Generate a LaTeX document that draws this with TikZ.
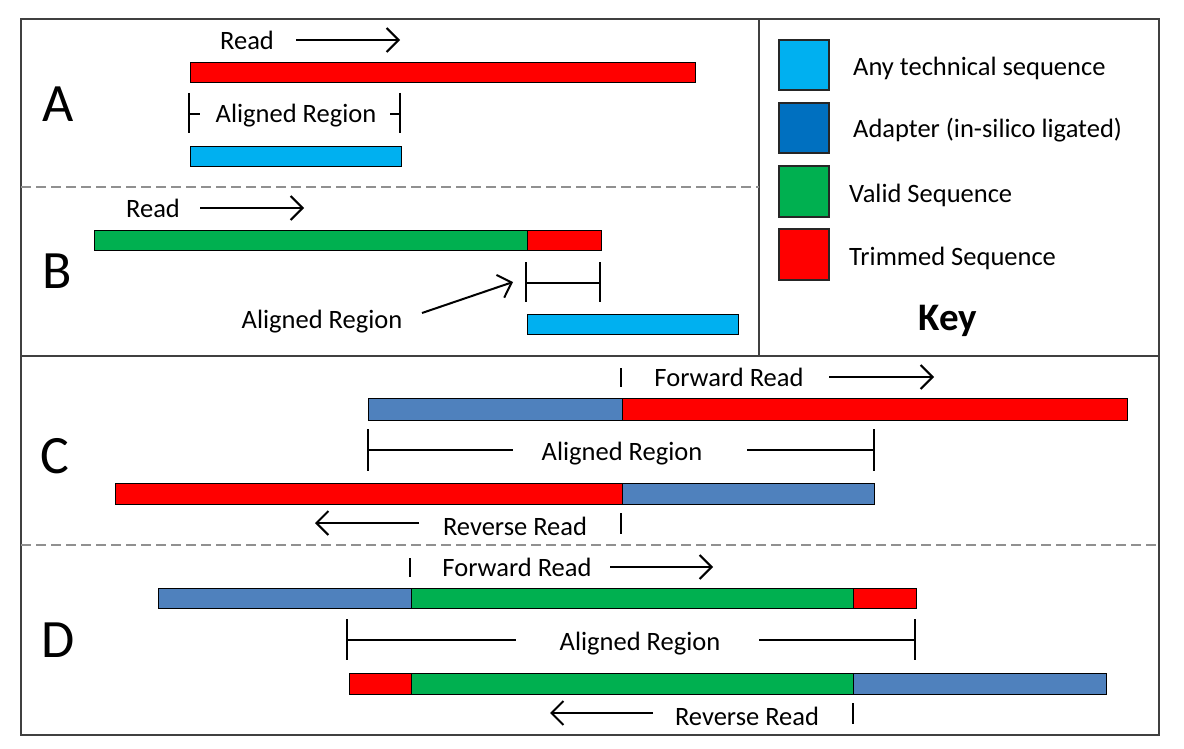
\documentclass[tikz,border=0pt]{standalone}
\usepackage{fontspec}
\setmainfont{Carlito}
\usetikzlibrary{arrows.meta}
\definecolor{trimred}{HTML}{FF0000}
\definecolor{techblue}{HTML}{00B0F0}
\definecolor{adaptkey}{HTML}{0070C0}
\definecolor{adaptbar}{HTML}{4F81BD}
\definecolor{validgreen}{HTML}{00B050}
\definecolor{framegray}{HTML}{404040}
\definecolor{sepgray}{HTML}{909090}
\begin{document}
\begin{tikzpicture}[x=1pt,y=-1pt,
  bar/.style={draw=black, line width=0.9pt},
  keysq/.style={draw=black!85, line width=1.6pt},
  lbl/.style={font=\fontsize{26.5}{30}\selectfont, inner sep=0pt, anchor=base},
  keylbl/.style={font=\fontsize{26.5}{30}\selectfont, inner sep=0pt, anchor=base west},
  bigletter/.style={font=\fontsize{54}{60}\selectfont, inner sep=0pt, anchor=base},
  brk/.style={line width=2pt},
  dirarrow/.style={line width=2pt, -{Straight Barb[length=12pt,width=24pt,line width=2pt]}},
  framel/.style={draw=framegray, line width=1.6pt},
  sepl/.style={draw=sepgray, line width=1.4pt, dash pattern=on 10pt off 5pt}]
\useasboundingbox (0,0) rectangle (1184,749);
\fill[white] (0,0) rectangle (1184,749);
% frame
\draw[framel] (21,19) rectangle (1159,735);
\draw[framel] (21,356) -- (1159,356);
\draw[framel] (759,19) -- (759,356);
\draw[sepl] (21,187) -- (759,187);
\draw[sepl] (21,545) -- (1159,545);
% letters
\node[bigletter] (lA) at (58,122) {A};
\node[bigletter] (lB) at (57,288) {B};
\node[bigletter] (lC) at (55,473) {C};
\node[bigletter] (lD) at (58,657) {D};
% Panel A
\node[lbl] (readA) at (247,50) {Read};
\coordinate (aA1) at (296,40); \coordinate (aA2) at (400,40);
\draw[dirarrow] (aA1) -- (aA2);
\draw[bar, fill=trimred] (190,62) rectangle (695,82);
\node[lbl] (alA) at (296,122.5) {Aligned Region};
\draw[brk] (189,93) -- (189,133);
\draw[brk] (189,114) -- (200,114);
\draw[brk] (390,114) -- (400,114);
\draw[brk] (400,93) -- (400,133);
\draw[bar, fill=techblue] (190,146) rectangle (401,166);
% Panel B
\node[lbl] (readB) at (153,218) {Read};
\coordinate (aB1) at (200,208); \coordinate (aB2) at (304,208);
\draw[dirarrow] (aB1) -- (aB2);
\draw[bar, fill=validgreen] (94,230) rectangle (527,250);
\draw[bar, fill=trimred] (527,230) rectangle (601,250);
\draw[brk] (526,262) -- (526,302);
\draw[brk] (526,283) -- (600,283);
\draw[brk] (600,262) -- (600,302);
\node[lbl] (alB) at (322,328) {Aligned Region};
\coordinate (pB1) at (422,313); \coordinate (pB2) at (513,282);
\draw[dirarrow] (pB1) -- (pB2);
\draw[bar, fill=techblue] (527,314) rectangle (738,334);
% Key
\draw[keysq, fill=techblue] (779,40) rectangle (829,90);
\draw[keysq, fill=adaptkey] (779,103) rectangle (829,153);
\draw[keysq, fill=validgreen] (779,166) rectangle (829,217);
\draw[keysq, fill=trimred] (779,229) rectangle (829,280);
\node[keylbl] (k1) at (853,76) {Any technical sequence};
\node[keylbl] (k2) at (853,137.7) {Adapter (in-silico ligated)};
\node[keylbl] (k3) at (849,202) {Valid Sequence};
\node[keylbl] (k4) at (849,265) {Trimmed Sequence};
\node[font=\fontsize{39}{44}\selectfont\bfseries, inner sep=0pt, anchor=base] (key) at (948,330) {Key};
% Panel C
\draw[brk] (621,368) -- (621,387);
\node[lbl] (fwdC) at (729,386) {Forward Read};
\coordinate (aC1) at (829,377); \coordinate (aC2) at (934,377);
\draw[dirarrow] (aC1) -- (aC2);
\draw[bar, fill=adaptbar] (368,398) rectangle (622,420);
\draw[bar, fill=trimred] (622,398) rectangle (1127,420);
\draw[brk] (368,429) -- (368,471);
\draw[brk] (368,450) -- (513,450);
\node[lbl] (alC) at (622,460) {Aligned Region};
\draw[brk] (747,450) -- (874,450);
\draw[brk] (874,429) -- (874,471);
\draw[bar, fill=trimred] (115.5,483) rectangle (622,504);
\draw[bar, fill=adaptbar] (622,483) rectangle (874,504);
\coordinate (aC3) at (419,523); \coordinate (aC4) at (315,523);
\draw[dirarrow] (aC3) -- (aC4);
\node[lbl] (revC) at (515,535) {Reverse Read};
\draw[brk] (621,513) -- (621,534);
% Panel D
\draw[brk] (410,558) -- (410,577);
\node[lbl] (fwdD) at (517,576) {Forward Read};
\coordinate (aD1) at (610,567); \coordinate (aD2) at (713,567);
\draw[dirarrow] (aD1) -- (aD2);
\draw[bar, fill=adaptbar] (158.5,588) rectangle (411,608);
\draw[bar, fill=validgreen] (411,588) rectangle (853,608);
\draw[bar, fill=trimred] (853,588) rectangle (916,608);
\draw[brk] (347,619) -- (347,660);
\draw[brk] (347,640) -- (516,640);
\node[lbl] (alD) at (640,650) {Aligned Region};
\draw[brk] (759,640) -- (915,640);
\draw[brk] (915,619) -- (915,660);
\draw[bar, fill=trimred] (349,673) rectangle (411,694);
\draw[bar, fill=validgreen] (411,673) rectangle (853,694);
\draw[bar, fill=adaptbar] (853,673) rectangle (1106,694);
\coordinate (aD3) at (653,713); \coordinate (aD4) at (550,713);
\draw[dirarrow] (aD3) -- (aD4);
\node[lbl] (revD) at (747,725) {Reverse Read};
\draw[brk] (853,703) -- (853,724);
\end{tikzpicture}
\end{document}
